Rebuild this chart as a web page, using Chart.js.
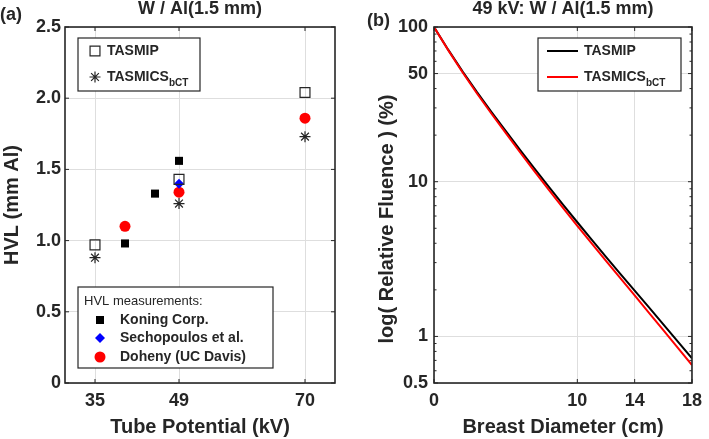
<!DOCTYPE html>
<html lang="en">
<head>
<meta charset="UTF-8">
<title>HVL and relative fluence</title>
<script src="https://cdn.jsdelivr.net/npm/chart.js@4"></script>
<style>
    body { margin: 0; background: #fff; }
    #wrap { position: relative; width: 709px; height: 439px; }
    .panel { position: absolute; top: 0; }
    #panelA { left: 0; }
    #panelB { left: 355px; }
</style>
</head>
<body>
<div id="wrap">
    <div class="panel" id="panelA"><canvas id="hvlChart" width="355" height="439"></canvas></div>
    <div class="panel" id="panelB"><canvas id="fluenceChart" width="354" height="439"></canvas></div>
</div>
<script>
// (a) HVL vs tube potential
const kvTicks = [35, 49, 70];
const hvlTicks = [0, 0.5, 1, 1.5, 2, 2.5];
const kvTasmip = [35, 49, 70];
const hvlTasmip = [0.97, 1.43, 2.04];
const kvTasmics = [35, 49, 70];
const hvlTasmics = [0.88, 1.26, 1.73];
const kvKoning = [40, 45, 49];
const hvlKoning = [0.98, 1.33, 1.56];
const kvSechopoulos = [49];
const hvlSechopoulos = [1.40];
const kvDoheny = [40, 49, 70];
const hvlDoheny = [1.10, 1.34, 1.86];

// (b) relative fluence (%) vs breast diameter (cm)
const diameterTicks = [0, 10, 14, 18];
const diameters = [0, 1, 2, 3, 4, 5, 6, 7, 8, 9, 10, 11, 12, 13, 14, 15, 16, 17, 18];
const fluenceTasmip = [100, 71.1, 51.5, 37.9, 28.3, 21.3, 16.07, 12.19, 9.29, 7.11, 5.47, 4.23, 3.27, 2.54, 1.98, 1.54, 1.197, 0.929, 0.721];
const fluenceTasmics = [100, 70.6, 50.8, 37.2, 27.6, 20.7, 15.5, 11.7, 8.89, 6.78, 5.19, 3.99, 3.08, 2.38, 1.84, 1.42, 1.10, 0.847, 0.653];
const fluenceTicks = [0.5, 1, 10, 50, 100];
const fluenceMinorTicks = [0.6, 0.7, 0.8, 0.9, 2, 3, 4, 5, 6, 7, 8, 9, 20, 30, 40, 60, 70, 80, 90];

const ink = '#262626';
const gridGray = '#dedede';
const fontFamily = '"Liberation Sans", Arial, sans-serif';
Chart.defaults.font.family = fontFamily;
Chart.defaults.color = ink;

function pts(xs, ys) {
    return xs.map((x, i) => ({ x: x, y: ys[i] }));
}

// boxed MATLAB-style legend, markers taken from the datasets
function drawLegendBox(ctx, chart, b) {
    ctx.fillStyle = '#fff';
    ctx.fillRect(b.x, b.y, b.w, b.h);
    ctx.lineWidth = 1.2;
    ctx.strokeStyle = ink;
    ctx.strokeRect(b.x, b.y, b.w, b.h);
    ctx.textAlign = 'left';
    ctx.textBaseline = 'middle';
    if (b.header) {
        ctx.fillStyle = ink;
        ctx.font = '13px ' + fontFamily;
        ctx.fillText(b.header, b.x + 6, b.y + b.headerY);
    }
    b.items.forEach((idx, i) => {
        const ds = chart.data.datasets[idx];
        const cy = b.y + b.rows[i];
        const mx = b.x + b.markX;
        if (b.line) {
            ctx.strokeStyle = ds.borderColor;
            ctx.lineWidth = ds.borderWidth;
            ctx.beginPath();
            ctx.moveTo(mx - 15.5, cy);
            ctx.lineTo(mx + 15.5, cy);
            ctx.stroke();
        } else {
            ctx.fillStyle = ds.backgroundColor;
            ctx.strokeStyle = ds.borderColor;
            ctx.lineWidth = ds.borderWidth;
            Chart.helpers.drawPoint(ctx, {
                pointStyle: ds.pointStyle, radius: ds.pointRadius,
                borderWidth: ds.borderWidth, rotation: 0
            }, mx, cy);
        }
        const parts = ds.label.split('_');
        ctx.fillStyle = ink;
        ctx.font = 'bold 14px ' + fontFamily;
        ctx.fillText(parts[0], b.x + b.textX, cy);
        if (parts[1]) {
            const w = ctx.measureText(parts[0]).width;
            ctx.font = 'bold 10px ' + fontFamily;
            ctx.fillText(parts[1], b.x + b.textX + w, cy + 6);
        }
    });
}

// box, inward ticks, panel tag, legends
const decor = {
    id: 'decor',
    afterDraw(chart, args, o) {
        const ctx = chart.ctx, a = chart.chartArea;
        const xs = chart.scales.x, ys = chart.scales.y;
        ctx.save();
        ctx.strokeStyle = ink;
        ctx.lineWidth = 1;
        ctx.beginPath();
        xs.ticks.forEach(t => {
            const px = xs.getPixelForValue(t.value);
            ctx.moveTo(px, a.bottom); ctx.lineTo(px, a.bottom - 4);
            ctx.moveTo(px, a.top); ctx.lineTo(px, a.top + 4);
        });
        ys.ticks.forEach(t => {
            const py = ys.getPixelForValue(t.value);
            ctx.moveTo(a.left, py); ctx.lineTo(a.left + 4, py);
            ctx.moveTo(a.right, py); ctx.lineTo(a.right - 4, py);
        });
        (o.minorY || []).forEach(v => {
            const py = ys.getPixelForValue(v);
            ctx.moveTo(a.left, py); ctx.lineTo(a.left + 2.5, py);
            ctx.moveTo(a.right, py); ctx.lineTo(a.right - 2.5, py);
        });
        ctx.stroke();
        ctx.lineWidth = 1.6;
        ctx.strokeRect(a.left, a.top, a.right - a.left, a.bottom - a.top);

        ctx.fillStyle = ink;
        ctx.font = 'bold 18px ' + fontFamily;
        ctx.textAlign = 'left';
        ctx.textBaseline = 'middle';
        ctx.fillText(o.tag, o.tagX, o.tagY);

        // y title placed by hand where MATLAB put it (not centred on the axis)
        if (o.yTitle) {
            ctx.save();
            ctx.translate(o.yTitle.x, o.yTitle.y);
            ctx.rotate(-Math.PI / 2);
            ctx.textAlign = 'center';
            ctx.font = 'bold 20px ' + fontFamily;
            ctx.fillText(o.yTitle.text, 0, 0);
            ctx.restore();
        }

        o.boxes.forEach(b => drawLegendBox(ctx, chart, b));
        ctx.restore();
    }
};

function axisX(min, max, tickList, titleText) {
    return {
        type: 'linear', min: min, max: max,
        afterBuildTicks: s => { s.ticks = tickList.map(v => ({ value: v })); },
        afterFit: s => { s.height = 56; },
        grid: { color: gridGray, drawTicks: false },
        border: { display: false },
        ticks: { padding: 7, font: { size: 18, weight: 'bold' }, color: ink },
        title: { display: true, text: titleText, color: ink,
                 font: { size: 20, weight: 'bold' }, padding: { top: 0, bottom: 0 } }
    };
}

// (a)
new Chart(document.getElementById('hvlChart'), {
    type: 'scatter',
    data: {
        datasets: [
            { label: 'TASMIP', data: pts(kvTasmip, hvlTasmip), pointStyle: 'rect', pointRadius: 7,
              backgroundColor: 'rgba(0,0,0,0)', borderColor: ink, borderWidth: 1.2 },
            { label: 'TASMICS_bCT', data: pts(kvTasmics, hvlTasmics), pointStyle: 'star', pointRadius: 5.5,
              backgroundColor: 'rgba(0,0,0,0)', borderColor: ink, borderWidth: 1.2 },
            { label: 'Koning Corp.', data: pts(kvKoning, hvlKoning), pointStyle: 'rect', pointRadius: 5.7,
              backgroundColor: '#000', borderColor: '#000', borderWidth: 0 },
            { label: 'Sechopoulos et al.', data: pts(kvSechopoulos, hvlSechopoulos), pointStyle: 'rectRot', pointRadius: 5,
              backgroundColor: '#0000ff', borderColor: '#0000ff', borderWidth: 0 },
            { label: 'Doheny (UC Davis)', data: pts(kvDoheny, hvlDoheny), pointStyle: 'circle', pointRadius: 5.5,
              backgroundColor: '#ff0000', borderColor: '#ff0000', borderWidth: 0 }
        ]
    },
    options: {
        responsive: false,
        animation: false,
        layout: { padding: { top: 0, right: 20, bottom: 0, left: 0 }, autoPadding: false },
        plugins: {
            legend: { display: false },
            tooltip: { enabled: false },
            title: { display: true, text: 'W / Al(1.5 mm)', fullSize: false, color: ink,
                     font: { size: 18, weight: 'bold', lineHeight: 1 }, padding: { top: 0, bottom: 9 } },
            decor: {
                tag: '(a)', tagX: 0, tagY: 15,
                boxes: [
                    { x: 78, y: 38, w: 122, h: 53, markX: 17, textX: 29, rows: [13, 39], items: [0, 1] },
                    { x: 78, y: 287, w: 195, h: 81, header: 'HVL measurements:', headerY: 14,
                      markX: 22, textX: 42, rows: [33, 51, 70], items: [2, 3, 4] }
                ]
            }
        },
        scales: {
            x: axisX(30, 75, kvTicks, 'Tube Potential (kV)'),
            y: {
                min: 0, max: 2.5,
                afterBuildTicks: s => { s.ticks = hvlTicks.map(v => ({ value: v })); },
                afterFit: s => { s.width = 65; },
                grid: { color: gridGray, drawTicks: false },
                border: { display: false },
                ticks: { padding: 4, font: { size: 18, weight: 'bold' }, color: ink,
                         callback: v => v === 0 ? '0' : v.toFixed(1) },
                title: { display: true, text: 'HVL (mm Al)', color: ink,
                         font: { size: 20, weight: 'bold' }, padding: { top: 0, bottom: 0 } }
            }
        }
    },
    plugins: [decor]
});

// (b)
new Chart(document.getElementById('fluenceChart'), {
    type: 'line',
    data: {
        datasets: [
            { label: 'TASMIP', data: pts(diameters, fluenceTasmip), borderColor: '#000',
              backgroundColor: '#000', borderWidth: 2, pointRadius: 0, tension: 0, order: 1 },
            { label: 'TASMICS_bCT', data: pts(diameters, fluenceTasmics), borderColor: '#ff0000',
              backgroundColor: '#ff0000', borderWidth: 2, pointRadius: 0, tension: 0, order: 0 }
        ]
    },
    options: {
        responsive: false,
        animation: false,
        layout: { padding: { top: 0, right: 10, bottom: 0, left: 0 }, autoPadding: false },
        plugins: {
            legend: { display: false },
            tooltip: { enabled: false },
            title: { display: true, text: '49 kV: W / Al(1.5 mm)', fullSize: false, color: ink,
                     font: { size: 18, weight: 'bold', lineHeight: 1 }, padding: { top: 0, bottom: 9 } },
            decor: {
                tag: '(b)', tagX: 12, tagY: 21,
                minorY: fluenceMinorTicks,
                yTitle: { text: 'log( Relative Fluence ) (%)', x: 32, y: 219 },
                boxes: [
                    { x: 183, y: 38, w: 143, h: 53, line: true, markX: 24.5, textX: 46, rows: [13, 39], items: [0, 1] }
                ]
            }
        },
        scales: {
            x: axisX(0, 18, diameterTicks, 'Breast Diameter (cm)'),
            y: {
                type: 'logarithmic', min: 0.5, max: 100,
                afterBuildTicks: s => { s.ticks = fluenceTicks.map(v => ({ value: v })); },
                afterFit: s => { s.width = 79; },
                grid: { color: gridGray, drawTicks: false },
                border: { display: false },
                ticks: { padding: 6, font: { size: 18, weight: 'bold' }, color: ink,
                         callback: v => String(v) }
            }
        }
    },
    plugins: [decor]
});
</script>
</body>
</html>
